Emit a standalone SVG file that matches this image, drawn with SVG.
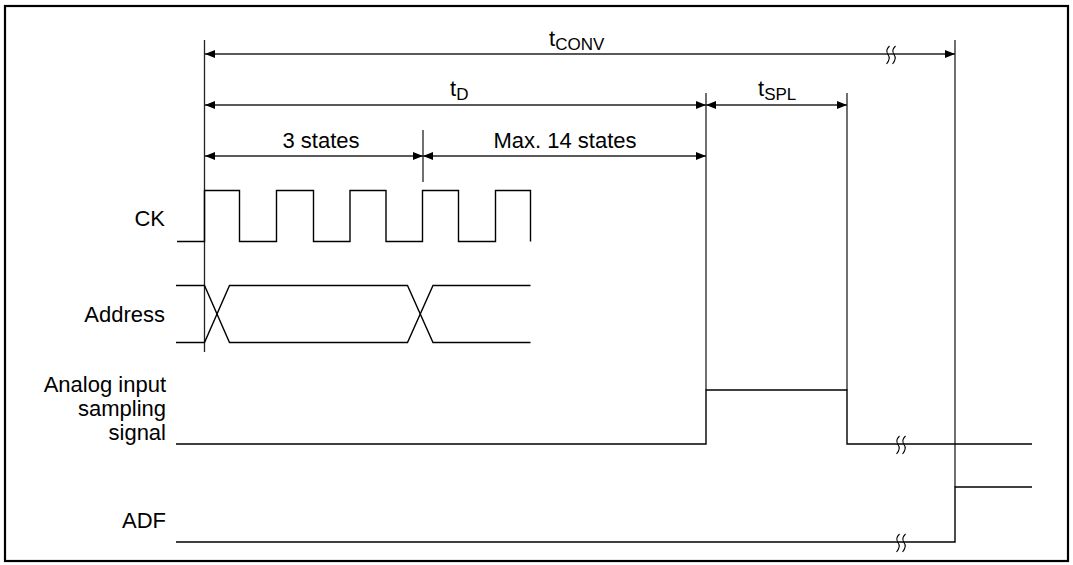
<svg xmlns="http://www.w3.org/2000/svg" width="1073" height="565" viewBox="0 0 1073 565">
<style>
.w{fill:none;stroke:#000;stroke-width:1.4}
.d{fill:none;stroke:#222;stroke-width:1.3}
.t{font-family:"Liberation Sans",Arial,sans-serif;font-size:22px;fill:#000}
.s{font-size:17px}
.r{text-anchor:end}
.c{text-anchor:middle}
.brk{fill:none;stroke:#000;stroke-width:1.1}
</style>
<defs>
<marker id="ah" viewBox="0 0 10 8" refX="10" refY="4" markerWidth="10" markerHeight="8" markerUnits="userSpaceOnUse" orient="auto-start-reverse">
<path d="M0,0 L10,4 L0,8 Z" fill="#000"/>
</marker>
<g id="bk">
<path class="brk" d="M-1.5,-8 Q-6,-3.5 -3,0.5 Q0,4.5 -4.5,10"/>
<path class="brk" d="M4.5,-8 Q0,-3.5 3,0.5 Q6,4.5 1.5,10"/>
</g>
</defs>
<rect x="5" y="6" width="1063" height="555" fill="#fff" stroke="#000" stroke-width="2.2"/>

<g id="connectors">
<line class="d" x1="204.5" y1="40" x2="204.5" y2="352"/>
<line class="d" x1="955" y1="40" x2="955" y2="487"/>
<line class="d" x1="706" y1="93" x2="706" y2="390"/>
<line class="d" x1="847" y1="93" x2="847" y2="390"/>
<line class="d" x1="423" y1="130" x2="423" y2="182"/>
<line class="d" x1="205" y1="54" x2="955" y2="54" marker-start="url(#ah)" marker-end="url(#ah)"/>
<use href="#bk" x="891" y="54"/>
<line class="d" x1="205" y1="105" x2="706" y2="105" marker-start="url(#ah)" marker-end="url(#ah)"/>
<line class="d" x1="706" y1="105" x2="847" y2="105" marker-start="url(#ah)" marker-end="url(#ah)"/>
<line class="d" x1="205" y1="156" x2="423" y2="156" marker-start="url(#ah)" marker-end="url(#ah)"/>
<line class="d" x1="423" y1="156" x2="706" y2="156" marker-start="url(#ah)" marker-end="url(#ah)"/>
</g>

<g id="labels-timing">
<text class="t" x="549" y="46">t<tspan class="s" dy="4">CONV</tspan></text>
<text class="t" x="450" y="96">t<tspan class="s" dy="4">D</tspan></text>
<text class="t" x="758" y="96">t<tspan class="s" dy="4">SPL</tspan></text>
<text class="t c" x="321" y="148">3 states</text>
<text class="t c" x="565" y="148">Max. 14 states</text>
</g>

<g id="ck">
<text class="t r" x="165" y="226">CK</text>
<path class="w" d="M177,241.5 H204.5 V190.5 H239.5 V241.5 H276.5 V190.5 H313.5 V241.5 H350 V190.5 H386 V241.5 H422.5 V190.5 H458.5 V241.5 H495.5 V190.5 H530.5 V241.5"/>
</g>

<g id="address">
<text class="t r" x="165" y="322">Address</text>
<path class="w" d="M176,285.5 H204.5 L229.5,342.5 H407.5 L433,285.5 H530.5"/>
<path class="w" d="M176,342.5 H204.5 L229.5,285.5 H407.5 L433,342.5 H530.5"/>
</g>

<g id="analog">
<text class="t r" x="166" y="392">Analog input</text>
<text class="t r" x="166" y="416">sampling</text>
<text class="t r" x="166" y="440">signal</text>
<path class="w" d="M176,444 H706 V390 H847 V444 H1032"/>
<use href="#bk" x="901" y="444"/>
</g>

<g id="adf">
<text class="t r" x="166" y="528">ADF</text>
<path class="w" d="M176,542 H955 V487 H1032"/>
<use href="#bk" x="901" y="542"/>
</g>
</svg>
